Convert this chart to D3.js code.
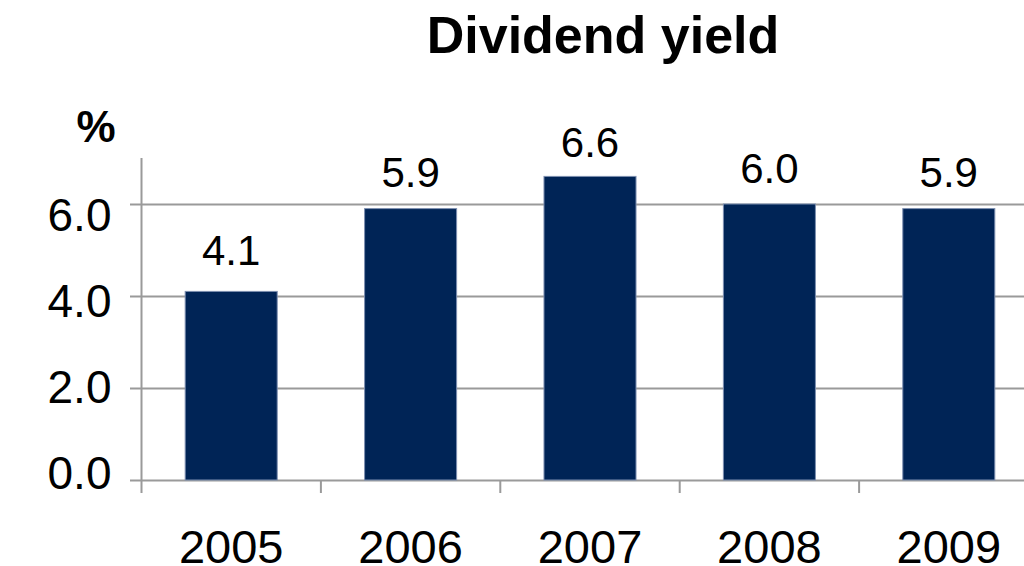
<!DOCTYPE html>
<html>
<head>
<meta charset="utf-8">
<script src="https://cdn.jsdelivr.net/npm/d3@7"></script>
<style>
  html, body { margin: 0; padding: 0; background: #fff; }
  svg { display: block; font-family: "Liberation Sans", Arial, sans-serif; }
</style>
</head>
<body>
<svg id="chart" width="1024" height="566"></svg>
<script>
// Dividend yield by year, in percent
const years = ["2005", "2006", "2007", "2008", "2009"];
const yieldPct = [4.1, 5.9, 6.6, 6.0, 5.9];
const yTicks = [0, 2, 4, 6];
const yTickLabels = ["0.0", "2.0", "4.0", "6.0"];
const valueLabels = ["4.1", "5.9", "6.6", "6.0", "5.9"];

const svg = d3.select("#chart");

const x = d3.scaleBand().domain(years).range([141.5, 1038.5]).padding(0);
const y = d3.scaleLinear().domain([0, 7]).range([480, 158]);
// text sits on a slightly tighter vertical scale than the bars
const textY = d3.scaleLinear().domain([0, 6]).range([472, 214]);

const barFrac = 0.513;
const gridColor = "#9a9a9a";

// horizontal gridlines and y tick marks
const yAxis = d3.axisLeft(y)
  .tickValues(yTicks)
  .tickSize(-(1038.5 - 141.5))
  .tickFormat((d, i) => yTickLabels[i]);

const gy = svg.append("g")
  .attr("transform", "translate(141.5,0)")
  .call(yAxis);
gy.select(".domain").remove();
gy.selectAll(".tick line")
  .attr("x1", -11.5)
  .attr("stroke", gridColor)
  .attr("stroke-width", 2);
gy.selectAll(".tick text")
  .attr("x", -62)
  .attr("text-anchor", "middle")
  .attr("dy", null)
  .attr("y", d => textY(d) - y(d))
  .attr("dominant-baseline", "central")
  .attr("font-size", 46)
  .attr("fill", "#000");

// vertical axis line
svg.append("line")
  .attr("x1", 141.5).attr("x2", 141.5)
  .attr("y1", y(7)).attr("y2", y(0) + 13)
  .attr("stroke", gridColor)
  .attr("stroke-width", 2);

// category boundary ticks below the baseline
svg.append("g").selectAll("line")
  .data(years.slice(1))
  .join("line")
  .attr("x1", d => x(d)).attr("x2", d => x(d))
  .attr("y1", y(0)).attr("y2", y(0) + 13)
  .attr("stroke", gridColor)
  .attr("stroke-width", 2);

// bars
const bw = x.bandwidth() * barFrac;
svg.append("g").selectAll("rect")
  .data(yieldPct)
  .join("rect")
  .attr("x", (d, i) => x(years[i]) + (x.bandwidth() - bw) / 2)
  .attr("width", bw)
  .attr("y", d => y(d))
  .attr("height", d => y(0) - y(d))
  .attr("fill", "#002456")
  .attr("stroke", "#7d8fb0")
  .attr("stroke-width", 1);

// value labels above bars
svg.append("g").selectAll("text")
  .data(yieldPct)
  .join("text")
  .attr("x", (d, i) => x(years[i]) + x.bandwidth() / 2)
  .attr("y", d => textY(d) - 31)
  .attr("text-anchor", "middle")
  .attr("font-size", 42)
  .attr("fill", "#000")
  .text((d, i) => valueLabels[i]);

// year labels
const xAxis = d3.axisBottom(x).tickSize(0).tickPadding(0);
const gx = svg.append("g")
  .attr("transform", "translate(0,563)")
  .call(xAxis);
gx.select(".domain").remove();
gx.selectAll(".tick text")
  .attr("dy", null)
  .attr("y", 0)
  .attr("font-size", 47)
  .attr("fill", "#000");

// unit label
svg.append("text")
  .attr("x", 96).attr("y", 142)
  .attr("text-anchor", "middle")
  .attr("font-size", 44)
  .attr("font-weight", "bold")
  .text("%");

// title
svg.append("text")
  .attr("x", 603).attr("y", 53)
  .attr("text-anchor", "middle")
  .attr("font-size", 52)
  .attr("font-weight", "bold")
  .text("Dividend yield");
</script>
</body>
</html>
